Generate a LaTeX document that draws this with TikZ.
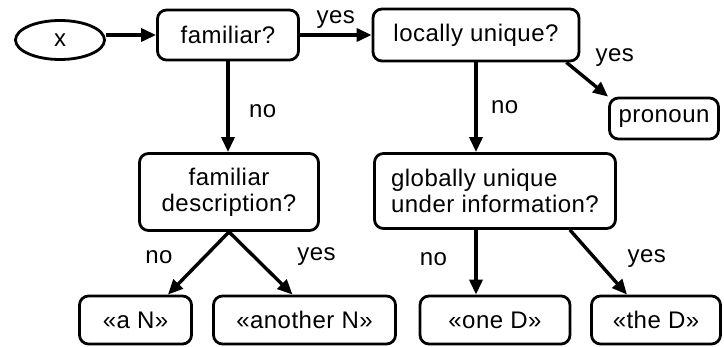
\documentclass[tikz,border=0pt]{standalone}
\usepackage{fontspec}
\setmainfont{Liberation Sans}[LetterSpace=2]
\usetikzlibrary{
        arrows.meta,
        positioning,
        shapes.geometric
    }
\tikzset{>={Triangle[length=15pt,width=13pt]},auto}
\tikzset{question/.style={draw,rounded corners=9pt,line width=2.8pt,align=center}}
\tikzset{answer/.style={draw,rounded corners=9pt,line width=2.8pt,minimum height=48pt}}

\begin{document}
\begin{tikzpicture}[x=1pt,y=-1pt,font=\fontsize{24}{26}\selectfont,line width=3.4pt]
                \useasboundingbox (0,0) rectangle (724,347);
                \node[ellipse,draw,line width=2.8pt,minimum width=89pt,minimum height=39pt,inner sep=0pt] (x) at (60,40) {x};
                \node[question,minimum width=141pt,minimum height=50pt] (fam) at (228,35) {familiar?};
                \node[question,minimum width=206pt,minimum height=52pt] (loc) at (476,35) {locally unique?};
                \node[answer,minimum width=109pt,minimum height=41pt] (pron) at (664,118.5) {pronoun};
                \node[question,minimum width=179pt,minimum height=77pt] (famdesc) at (229,192) {familiar\\description?};
                \node[question,align=left,minimum width=241pt,minimum height=75pt] (glob) at (495,191) {globally unique\\under information?};
                \node[answer,minimum width=112pt] (aN) at (135.5,320) {«a N»};
                \node[answer,minimum width=182pt] (anN) at (304.5,320) {«another N»};
                \node[answer,minimum width=150pt] (oneD) at (495,320) {«one D»};
                \node[answer,minimum width=129pt] (theD) at (656,320) {«the D»};
                \path[->]
                    (x.east |- fam) edge (fam)
                    (fam) edge node[above=1pt] {yes} (loc)
                    (fam) edge node[right=16pt,pos=0.55] {no} (fam |- famdesc.north)
                    ([xshift=-14pt]loc.south east) edge node[right=20pt,yshift=8pt,pos=0.1] {yes} (pron.north west)
                    (loc) edge node[right=10pt,pos=0.5] {no} (loc |- glob.north);
                \path[->]
                    (famdesc.south) edge node[left=27pt,pos=0.4] {no} ([xshift=-25pt]aN.north east)
                    (famdesc.south) edge node[right=38pt,pos=0.4] {yes} ([xshift=-12pt]anN.north)
                    (glob.south -| loc) edge node[left=24pt,pos=0.45] {no} (oneD.north -| loc)
                    ([xshift=-47pt]glob.south east) edge node[right=27pt,pos=0.45] {yes} ([xshift=-29pt]theD.north);
            \end{tikzpicture}
\end{document}
